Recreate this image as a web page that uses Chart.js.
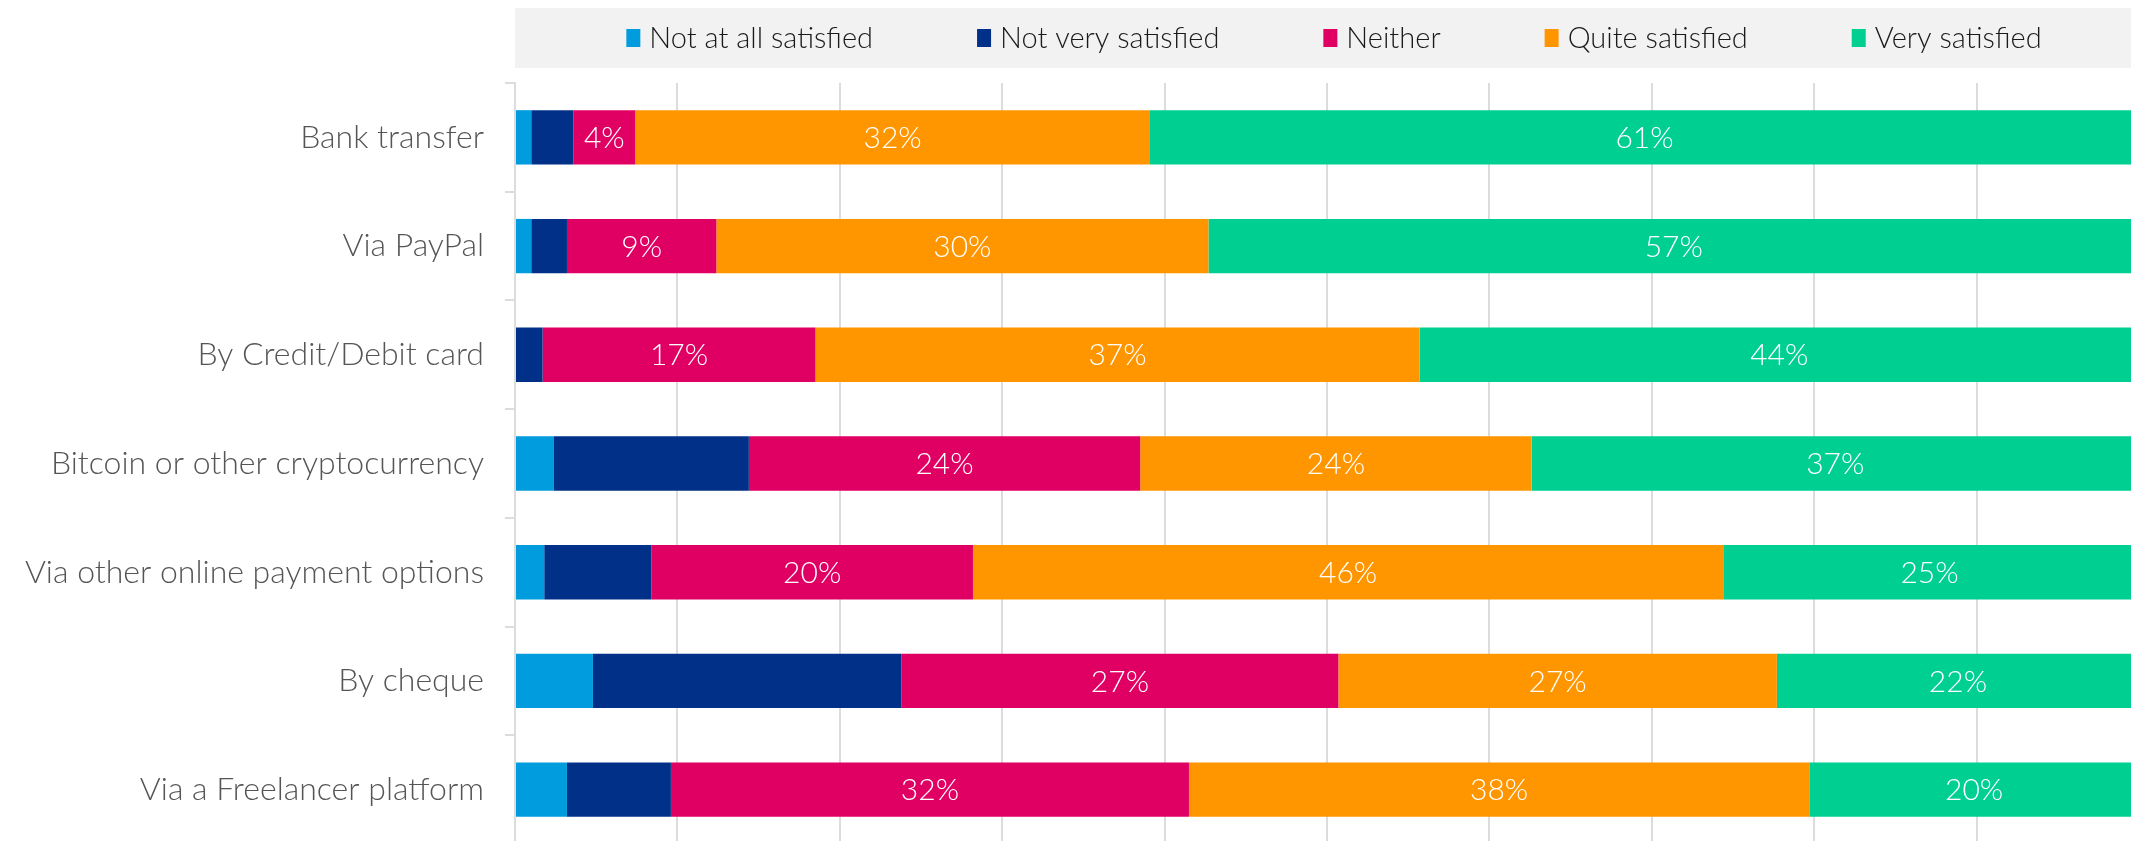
<!DOCTYPE html>
<html lang="en">
<head>
  <meta charset="UTF-8" />
  <title>Satisfaction by payment method</title>
  <script src="https://cdn.jsdelivr.net/npm/chart.js"></script>
  <style>
    html, body { margin: 0; padding: 0; background: #fff; overflow: hidden; }
    #wrap { position: relative; width: 2139px; height: 844px; }
  </style>
</head>
<body>
  <div id="wrap"><canvas id="chart"></canvas></div>

  <script>
    const methods = [
      'Bank transfer',
      'Via PayPal',
      'By Credit/Debit card',
      'Bitcoin or other cryptocurrency',
      'Via other online payment options',
      'By cheque',
      'Via a Freelancer platform'
    ];
    const answers = ['Not at all satisfied', 'Not very satisfied', 'Neither', 'Quite satisfied', 'Very satisfied'];
    const colors = ['#009cde', '#003087', '#e00064', '#ff9600', '#00cf92'];

    // shares in %
    const notAtAll = [1.0, 1.0, 0.0, 2.4, 1.8, 4.8, 3.2];
    const notVery = [2.6, 2.2, 1.7, 12.0, 6.6, 19.0, 6.4];
    const neither = [3.8, 9.2, 16.8, 24.1, 19.8, 26.9, 31.9];
    const quite = [31.7, 30.3, 37.2, 24.1, 46.2, 27.0, 38.2];
    const very = [60.9, 57.3, 44.3, 37.4, 25.4, 22.3, 20.3];

    // only the three larger groups get a value label
    const labelled = [false, false, true, true, true];

    const FONT = 'Lato';

    // grey band with the legend, sitting over the plot area
    const legendBand = {
      id: 'legendBand',
      beforeDraw(chart) {
        const { ctx, chartArea } = chart;
        ctx.save();
        ctx.fillStyle = '#f2f2f2';
        ctx.fillRect(chartArea.left, 8, chart.width - chartArea.left, 60);

        ctx.font = `300 29px ${FONT}`;
        const box = 14, gap = 9, spacing = 104;
        const items = chart.data.datasets.map(ds => ({
          label: ds.label,
          color: ds.backgroundColor,
          w: ctx.measureText(ds.label).width
        }));
        const total = items.reduce((s, it) => s + box + gap + it.w, 0) + spacing * (items.length - 1);
        let x = (chartArea.left + chart.width) / 2 - total / 2 + 7;
        const cy = 38;
        ctx.textBaseline = 'middle';
        items.forEach(it => {
          ctx.fillStyle = it.color;
          ctx.fillRect(x, cy - 9, box, 18);
          ctx.fillStyle = '#1a1a1a';
          ctx.fillText(it.label, x + box + gap, cy + 1);
          x += box + gap + it.w + spacing;
        });
        ctx.restore();
      }
    };

    const valueLabels = {
      id: 'valueLabels',
      afterDatasetsDraw(chart) {
        const { ctx } = chart;
        ctx.save();
        ctx.font = `300 30px ${FONT}`;
        ctx.fillStyle = '#ffffff';
        ctx.textAlign = 'center';
        ctx.textBaseline = 'middle';
        chart.data.datasets.forEach((ds, i) => {
          if (!labelled[i]) return;
          chart.getDatasetMeta(i).data.forEach((bar, j) => {
            const { x, y, base } = bar.getProps(['x', 'y', 'base'], true);
            ctx.fillText(Math.round(ds.data[j]) + '%', (x + base) / 2, y + 1);
          });
        });
        ctx.restore();
      }
    };

    const series = [notAtAll, notVery, neither, quite, very];

    new Chart(document.getElementById('chart'), {
      type: 'bar',
      data: {
        labels: methods,
        datasets: series.map((data, i) => ({
          label: answers[i],
          data: data,
          backgroundColor: colors[i],
          borderWidth: 0,
          barPercentage: 0.5,
          categoryPercentage: 1.0
        }))
      },
      options: {
        indexAxis: 'y',
        responsive: true,
        maintainAspectRatio: false,
        animation: false,
        devicePixelRatio: 1,
        layout: { padding: { top: 83, left: 0, right: 0, bottom: 0 } },
        plugins: {
          legend: { display: false },
          tooltip: { enabled: false }
        },
        scales: {
          x: {
            stacked: true,
            min: 0,
            max: 100,
            ticks: { display: false, stepSize: 10 },
            grid: { color: '#dcdcdc', lineWidth: 2, drawTicks: false },
            border: { display: false }
          },
          y: {
            stacked: true,
            afterFit(scale) {
              scale.width = 515;
              scale.paddingTop = 0;
              scale.paddingBottom = 0;
            },
            ticks: {
              padding: 21,
              color: '#555555',
              font: { family: FONT, size: 32, weight: '300' }
            },
            grid: {
              offset: true,
              drawOnChartArea: false,
              tickLength: 10,
              color: '#dcdcdc',
              lineWidth: 2
            },
            border: { display: true, color: '#dcdcdc', width: 2 }
          }
        }
      },
      plugins: [legendBand, valueLabels]
    });
  </script>
</body>
</html>
